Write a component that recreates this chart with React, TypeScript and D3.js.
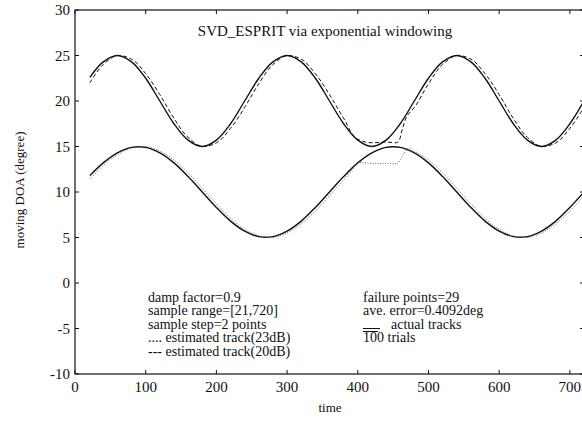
import React from "react";
import * as d3 from "d3";

const times = [21, 40, 60, 80, 100, 120, 140, 160, 180, 200, 220, 240, 260, 280, 300, 320, 340, 360, 380, 400, 420, 440, 460, 480, 500, 520, 540, 560, 580, 600, 620, 640, 660, 680, 700, 720];
const actualUpper = [22.6, 24.3, 25, 24.3, 22.5, 20, 17.5, 15.7, 15, 15.7, 17.5, 20, 22.5, 24.3, 25, 24.3, 22.5, 20, 17.5, 15.7, 15, 15.7, 17.5, 20, 22.5, 24.3, 25, 24.3, 22.5, 20, 17.5, 15.7, 15, 15.7, 17.5, 20];
const actualLower = [11.8, 13.2, 14.3, 14.9, 14.9, 14.3, 13.2, 11.7, 10, 8.3, 6.8, 5.7, 5.1, 5.1, 5.7, 6.8, 8.3, 10, 11.7, 13.2, 14.3, 14.9, 14.9, 14.3, 13.2, 11.7, 10, 8.3, 6.8, 5.7, 5.1, 5.1, 5.7, 6.8, 8.3, 10];

const dashTimes = [21, 40, 60, 80, 100, 120, 140, 160, 180, 200, 220, 240, 260, 280, 300, 320, 340, 360, 380, 400, 410, 440, 457, 462, 470, 480, 500, 520, 540, 560, 580, 600, 620, 640, 660, 680, 700, 720];
const est20dB = [22.0, 24.0, 25.0, 24.6, 23.0, 20.7, 18.1, 16.0, 15.0, 15.4, 17.0, 19.3, 21.9, 24.0, 25.0, 24.6, 23.0, 20.7, 18.1, 15.8, 15.5, 15.5, 15.5, 16.6, 18.4, 19.3, 21.9, 24.0, 25.0, 24.6, 23.0, 20.7, 18.1, 16.0, 15.0, 15.4, 17.0, 19.3];

const dotTimes = [21, 40, 60, 80, 100, 120, 140, 160, 180, 200, 220, 240, 260, 280, 300, 320, 340, 360, 380, 392, 398, 420, 440, 457, 465, 472, 480, 500, 520, 540, 560, 580, 600, 620, 640, 660, 680, 700, 720];
const est23dB = [11.4, 12.9, 14.1, 14.8, 15.0, 14.5, 13.5, 12.1, 10.4, 8.7, 7.1, 5.9, 5.2, 5.0, 5.5, 6.5, 7.9, 9.6, 11.3, 12.4, 13.1, 13.15, 13.15, 13.2, 14.2, 14.8, 14.5, 13.5, 12.1, 10.4, 8.7, 7.1, 5.9, 5.2, 5.0, 5.5, 6.5, 7.9, 9.6];

const xTicks = [0, 100, 200, 300, 400, 500, 600, 700];
const yTicks = [-10, -5, 0, 5, 10, 15, 20, 25, 30];

const titleText = "SVD_ESPRIT via exponential windowing";
const xLabel = "time";
const yLabel = "moving DOA (degree)";
const leftNotes = ["damp factor=0.9", "sample range=[21,720]", "sample step=2 points", ".... estimated track(23dB)", "--- estimated track(20dB)"];
const rightNotes = ["failure points=29", "ave. error=0.4092deg", "actual tracks", "100 trials"];

const W = 582;
const H = 424;
const L = 75;
const R = 584;
const T = 10;
const B = 374;
const FONT = "'Liberation Serif', 'Times New Roman', serif";

export default function App() {
  const x = d3.scaleLinear().domain([0, 720]).range([L, R]);
  const y = d3.scaleLinear().domain([-10, 30]).range([B, T]);
  const line = (ts: number[], vs: number[], alpha: number) =>
    d3.line<number>().x((_, i) => x(ts[i])).y((v) => y(v)).curve(d3.curveCatmullRom.alpha(alpha))(vs) || "";

  const noteY = (i: number) => 301.5 + i * 13.5;

  return (
    <div style={{ position: "absolute", left: 0, top: 0 }}>
      <svg width={W} height={H} style={{ display: "block", background: "#fff" }} fontFamily={FONT}>
        <defs>
          <clipPath id="plot">
            <rect x={L} y={T} width={R - L} height={B - T} />
          </clipPath>
        </defs>
        <g clipPath="url(#plot)" fill="none">
          <path d={line(times, actualUpper, 0.5)} stroke="#111" strokeWidth={1.4} />
          <path d={line(times, actualLower, 0.5)} stroke="#111" strokeWidth={1.4} />
          <path d={line(dashTimes, est20dB, 1)} stroke="#111" strokeWidth={1} strokeDasharray="4,2.5" />
          <path d={line(dotTimes, est23dB, 1)} stroke="#666" strokeWidth={1} strokeDasharray="1,1.5" />
        </g>
        {/* frame */}
        <rect x={L} y={T} width={R - L} height={B - T} fill="none" stroke="#111" strokeWidth={1.2} />
        {xTicks.map((t) => (
          <g key={"xt" + t}>
            <line x1={x(t)} x2={x(t)} y1={B} y2={B - 4} stroke="#111" />
            <line x1={x(t)} x2={x(t)} y1={T} y2={T + 4} stroke="#111" />
            <text x={x(t)} y={B + 18} fontSize={15} textAnchor="middle" fill="#111">{t}</text>
          </g>
        ))}
        {yTicks.map((v) => (
          <g key={"yt" + v}>
            <line x1={L} x2={L + 4} y1={y(v)} y2={y(v)} stroke="#111" />
            <line x1={R} x2={R - 4} y1={y(v)} y2={y(v)} stroke="#111" />
            <text x={L - 5} y={y(v) + 5} fontSize={15} textAnchor="end" fill="#111">{v}</text>
          </g>
        ))}
        <text x={325} y={36} fontSize={15} textAnchor="middle" fill="#111">{titleText}</text>
        <text x={330} y={412} fontSize={13} textAnchor="middle" fill="#111">{xLabel}</text>
        <text transform={`translate(24,190) rotate(-90)`} fontSize={13} textAnchor="middle" fill="#111">{yLabel}</text>
        {leftNotes.map((s, i) => (
          <text key={"ln" + i} x={148} y={noteY(i)} fontSize={14} fill="#111">{s}</text>
        ))}
        <text x={363} y={noteY(0)} fontSize={14} fill="#111">{rightNotes[0]}</text>
        <text x={363} y={noteY(1)} fontSize={14} fill="#111">{rightNotes[1]}</text>
        <line x1={363} x2={380} y1={noteY(2)} y2={noteY(2)} stroke="#111" strokeWidth={1} />
        <text x={391} y={noteY(2)} fontSize={14} fill="#111">{rightNotes[2]}</text>
        <line x1={363} x2={378} y1={noteY(3) - 10.5} y2={noteY(3) - 10.5} stroke="#111" strokeWidth={1} />
        <text x={363} y={noteY(3)} fontSize={14} fill="#111">{rightNotes[3]}</text>
      </svg>
    </div>
  );
}
